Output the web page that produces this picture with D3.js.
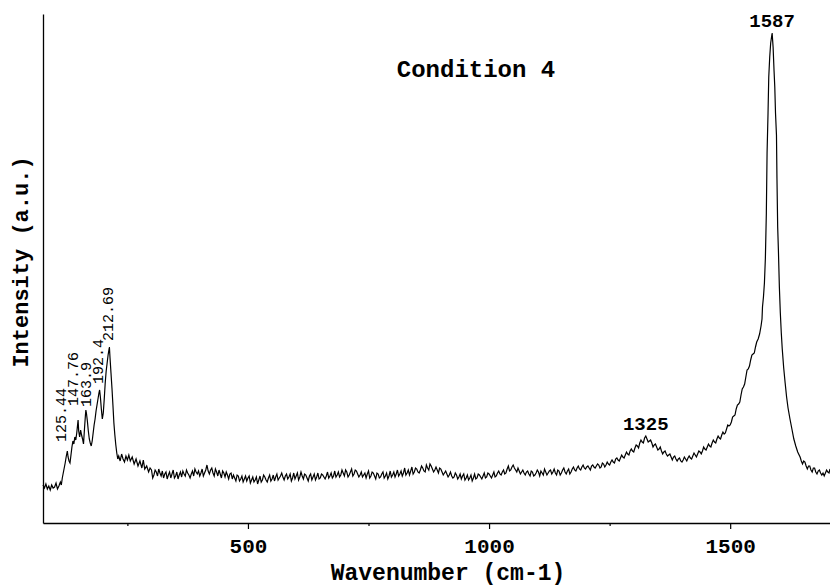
<!DOCTYPE html>
<html>
<head>
<meta charset="utf-8">
<script src="https://cdn.jsdelivr.net/npm/d3@7"></script>
<style>
  html, body { margin: 0; padding: 0; background: #fff; }
  svg { display: block; }
</style>
</head>
<body>
<svg id="chart" width="830" height="586"></svg>
<script>
// ---------------- DATA (wavenumber cm-1, intensity a.u.) ----------------
const lowBand = [
  [75,38],[78,35],[81,39],[84,34],[87,37],[90,33],[93,38],[96,35],[99,36],[102,40],[105,34],[108,37],
  [111,41],[113,38],[115,45],[117,50],[119,55],[121,60],[123,66],[125.44,72],[127,66],[129,62],[131,60],
  [133,68],[135,76],[137,82],[139,79],[141,86],[143,83],[145,90],[147.76,103],[149,92],[151,86],[153,93],
  [155,88],[157,84],[159,79],[161,94],[163,108],[163.9,113],[165,110],[167,102],[169,92],[171,84],[173,80],
  [175,77],[177,82],[179,90],[181,98],[183,104],[185,112],[187,118],[189,124],[191,130],[192.4,133],[194,126],
  [196,114],[198,104],[200,110],[202,124],[204,140],[206,152],[208,160],[210,168],[212.69,176],[214,165],
  [216,150],[218,135],[220,118],[222,100],[224,88],[226,78],[228,70],[230,64],[232,67],[235,62],[238,69],
  [241,64],[244,61],[247,67],[250,63],[253,68],[256,62],[260,66],[264,59],[268,64],[272,57],[276,62],
  [280,55],[283,63],[286,54],[290,57],[294,51],[297,55]
];
const baseline = [
  [300,53],[305,48],[310,51],[315,54],[320,47],[325,45],[330,51],[335,48],[340,45],[345,53],[350,47],[355,44],
  [360,51],[365,52],[370,47],[375,50],[380,45],[385,52],[390,54],[395,49],[400,47],[405,54],[410,50],[415,58],
  [420,49],[425,55],[430,47],[435,51],[440,53],[445,45],[450,50],[455,51],[460,44],[465,50],[470,48],[475,42],
  [480,47],[485,44],[490,41],[495,47],[500,45],[505,40],[510,46],[515,43],[520,39],[525,47],[530,43],[535,46],
  [540,41],[545,48],[550,44],[555,42],[560,49],[565,45],[570,50],[575,43],[580,49],[585,46],[590,42],[595,50],
  [600,47],[605,43],[610,51],[615,44],[620,48],[625,42],[630,49],[635,46],[640,43],[645,50],[650,45],[655,48],
  [660,44],[665,51],[670,47],[675,45],[680,52],[685,48],[690,46],[695,53],[700,47],[705,51],[710,48],[715,54],
  [720,49],[725,52],[730,46],[735,51],[740,48],[745,45],[750,52],[755,47],[760,50],[765,44],[770,49],[775,46],
  [780,51],[785,47],[790,44],[795,52],[800,48],[805,46],[810,53],[815,49],[820,47],[825,55],[830,50],[835,48],
  [840,56],[845,51],[850,54],[855,50],[860,57],[865,52],[870,58],[875,53],[880,57],[885,51],[890,56],[895,50],
  [900,54],[905,48],[910,52],[915,46],[920,51],[925,45],[930,50],[935,44],[940,49],[945,47],[950,43],[955,48],
  [960,45],[965,42],[970,49],[975,45],[980,48],[985,44],[990,50],[995,46],[1000,49],[1005,45],[1010,51],[1015,47],
  [1020,52],[1025,48],[1030,53],[1035,50],[1040,57],[1045,53],[1050,58],[1055,53],[1060,55],[1065,49],[1070,53],
  [1075,48],[1080,52],[1085,47],[1090,51],[1095,48],[1100,53],[1105,47],[1110,50],[1115,54],[1120,48],[1125,52],
  [1130,49],[1135,54],[1140,48],[1145,52],[1150,50],[1155,55],[1160,49],[1165,54],[1170,51],[1175,56],[1180,52],
  [1185,57],[1190,53],[1195,58],[1200,54],[1205,57],[1210,53],[1215,58],[1220,55],[1225,59],[1230,55],[1235,60],
  [1240,56],[1245,61]
];
const baselineMid = [
  [302.5,45],[307.5,53],[312.5,47],[317.5,50],[322.5,52],[327.5,49],[332.5,44],[337.5,51],[342.5,49],[347.5,45],
  [352.5,51],[357.5,48],[362.5,46],[367.5,49],[372.5,53],[377.5,48],[382.5,49],[387.5,47],[392.5,51],[397.5,52],
  [402.5,50],[407.5,47],[412.5,53],[417.5,52],[422.5,53],[427.5,50],[432.5,54],[437.5,47],[442.5,49],[447.5,52],
  [452.5,46],[457.5,48],[462.5,49],[467.5,44],[472.5,45],[477.5,48],[482.5,42],[487.5,47],[492.5,44],[497.5,42],
  [502.5,47],[507.5,43],[512.5,41],[517.5,46],[522.5,43],[527.5,41],[532.5,48],[537.5,43],[542.5,45],[547.5,42],
  [552.5,48],[557.5,46],[562.5,43],[567.5,47],[572.5,46],[577.5,47],[582.5,44],[587.5,49],[592.5,45],[597.5,44],
  [602.5,50],[607.5,46],[612.5,47],[617.5,49],[622.5,45],[627.5,47],[632.5,43],[637.5,49],[642.5,46],[647.5,44],
  [652.5,49],[657.5,46],[662.5,47],[667.5,45],[672.5,50],[677.5,47],[682.5,46],[687.5,51],[692.5,48],[697.5,50],
  [702.5,53],[707.5,46],[712.5,51],[717.5,47],[722.5,53],[727.5,49],[732.5,48],[737.5,46],[742.5,50],[747.5,49],
  [752.5,45],[757.5,51],[762.5,47],[767.5,50],[772.5,45],[777.5,49],[782.5,45],[787.5,50],[792.5,47],[797.5,46],
  [802.5,51],[807.5,49],[812.5,47],[817.5,52],[822.5,50],[827.5,48],[832.5,53],[837.5,52],[842.5,49],[847.5,55],
  [852.5,51],[857.5,53],[862.5,55],[867.5,51],[872.5,55],[877.5,59],[882.5,54],[887.5,53],[892.5,53],[897.5,55],
  [902.5,51],[907.5,50],[912.5,49],[917.5,48],[922.5,47],[927.5,46],[932.5,48],[937.5,46],[942.5,44],[947.5,49],
  [952.5,45],[957.5,43],[962.5,48],[967.5,45],[972.5,44],[977.5,49],[982.5,46],[987.5,47],[992.5,45],[997.5,50],
  [1002.5,47],[1007.5,48],[1012.5,46],[1017.5,50],[1022.5,49],[1027.5,51],[1032.5,49],[1037.5,54],[1042.5,52],
  [1047.5,56],[1052.5,55],[1057.5,51],[1062.5,52],[1067.5,51],[1072.5,50],[1077.5,51],[1082.5,49],[1087.5,52],
  [1092.5,47],[1097.5,50],[1102.5,51],[1107.5,52],[1112.5,48],[1117.5,51],[1122.5,50],[1127.5,53],[1132.5,51],
  [1137.5,50],[1142.5,53],[1147.5,48],[1152.5,53],[1157.5,51],[1162.5,52],[1167.5,49],[1172.5,54],[1177.5,53],
  [1182.5,55],[1187.5,54],[1192.5,56],[1197.5,55],[1202.5,56],[1207.5,55],[1212.5,57],[1217.5,56],[1222.5,57],
  [1227.5,58],[1232.5,56],[1237.5,59],[1242.5,58],[1247.5,59]
];
const dBand = [
  [1250,58],[1255,63],[1260,60],[1265,65],[1270,62],[1275,68],[1280,65],[1285,71],[1290,68],[1295,74],[1300,71],
  [1305,78],[1310,75],[1315,83],[1320,80],[1325,87],[1330,81],[1335,83],[1340,76],[1345,79],[1350,73],[1355,76],
  [1360,69],[1365,72],[1370,67],[1375,69],[1380,63],[1385,67],[1390,62],[1395,65],[1400,61],[1405,66],[1410,62],
  [1415,67],[1420,64],[1425,70],[1430,66],[1435,72],[1440,69],[1445,76],[1450,73],[1455,79],[1460,76],[1465,83],
  [1470,80],[1475,87],[1480,84],[1485,91],[1490,90],[1495,98],[1500,98],[1505,106],[1510,108],[1515,118],
  [1520,121],[1525,134],[1530,139],[1535,153],[1540,157],[1545,168],[1550,170],[1555,181],[1558,184],[1561,189],
  [1564,197],[1566,204]
];
const dBandMid = [
  [1252.5,61],[1257.5,61],[1262.5,64],[1267.5,63],[1272.5,65],[1277.5,66],[1282.5,68],[1287.5,69],[1292.5,72],
  [1297.5,72],[1302.5,75],[1307.5,77],[1312.5,80],[1317.5,81],[1322.5,85],[1327.5,84],[1332.5,82],[1337.5,80],
  [1342.5,78],[1347.5,76],[1352.5,74],[1357.5,72],[1362.5,71],[1367.5,69],[1372.5,68],[1377.5,66],[1382.5,66],
  [1387.5,64],[1392.5,64],[1397.5,62],[1402.5,63],[1407.5,64],[1412.5,65],[1417.5,65],[1422.5,67],[1427.5,68],
  [1432.5,69],[1437.5,71],[1442.5,72],[1447.5,74],[1452.5,76],[1457.5,77],[1462.5,80],[1467.5,81],[1472.5,84],
  [1477.5,85],[1482.5,88],[1487.5,89],[1492.5,94],[1497.5,97],[1502.5,101],[1507.5,107],[1512.5,114],
  [1517.5,119],[1522.5,128],[1527.5,136],[1532.5,146],[1537.5,154],[1542.5,163],[1547.5,169],[1552.5,176]
];
const gBand = [
  [1567,216],[1569,226],[1571,240],[1573,265],[1575,310],[1576.5,370],[1578.5,410],[1580,446],[1582,466],
  [1584,480],[1587,490],[1589,476],[1591,452],[1592.5,436],[1594,410],[1596,388],[1597,345],[1598.5,296],
  [1600,273],[1602,236],[1604,210],[1606,190],[1608,174],[1611,155],[1614,140],[1617,126],[1620,115],
  [1624,104],[1628,94],[1632,84],[1636,77],[1640,71],[1645,66],[1650,59],[1655,61],[1660,54],[1665,57],
  [1670,51],[1675,55],[1680,49],[1685,53],[1690,48],[1695,47],[1700,53],[1705,50],[1707,54]
];
const gTailMid = [
  [1647.5,62],[1652.5,62],[1657.5,57],[1662.5,57],[1667.5,53],[1672.5,55],[1677.5,51],[1682.5,52],
  [1687.5,50],[1692.5,50],[1697.5,50],[1702.5,51]
];
const spectrum = d3.sort(
  lowBand.concat(baseline, baselineMid, dBand, dBandMid, gBand, gTailMid),
  d => d[0]
);

const xTicksMajor = [500, 1000, 1500];
const xTicksMinor = [250, 750, 1250];
const peakLabelsRot = [
  {w: 125.44, text: "125.44"},
  {w: 147.76, text: "147.76"},
  {w: 163.9,  text: "163.9"},
  {w: 192.4,  text: "192.4"},
  {w: 212.69, text: "212.69"}
];
const peakLabelsFlat = [
  {w: 1325, text: "1325"},
  {w: 1587, text: "1587"}
];
const titleText = "Condition 4";
const xTitle = "Wavenumber (cm-1)";
const yTitle = "Intensity (a.u.)";

// ---------------- LAYOUT / STYLE ----------------
const svg = d3.select("#chart");
const FONT = "'Liberation Mono', 'Courier New', monospace";
const x = d3.scaleLinear().domain([75, 1707]).range([43, 830]);
const y = d3.scaleLinear().domain([0, 509]).range([523, 14]);
// pixel nudges for the rotated peak labels (label placement style)
const rotNudge = [[-7, -9], [-5, -14], [0, -3], [-2, -6], [-2, -6]];

svg.append("rect").attr("width", 830).attr("height", 586).attr("fill", "#fff");

// spectrum line
const line = d3.line().x(d => x(d[0])).y(d => y(d[1]));
svg.append("path").datum(spectrum)
  .attr("d", line).attr("fill", "none")
  .attr("stroke", "#000").attr("stroke-width", 1.2)
  .attr("stroke-linejoin", "miter");

// axes
const xAxisMajor = d3.axisBottom(x).tickValues(xTicksMajor).tickFormat(d3.format("d"))
  .tickSize(6).tickSizeOuter(0).tickPadding(9);
const gx = svg.append("g").attr("transform", "translate(0,523)").call(xAxisMajor);
gx.select(".domain").attr("stroke", "#000").attr("stroke-width", 1.3);
gx.selectAll(".tick line").attr("stroke", "#000").attr("stroke-width", 1.2);
gx.selectAll(".tick text").attr("font-family", FONT).attr("font-weight", "bold")
  .attr("font-size", 21).attr("fill", "#000");
const xAxisMinor = d3.axisBottom(x).tickValues(xTicksMinor).tickSize(3).tickSizeOuter(0).tickFormat("");
const gxm = svg.append("g").attr("transform", "translate(0,523)").call(xAxisMinor);
gxm.select(".domain").remove();
gxm.selectAll(".tick line").attr("stroke", "#000").attr("stroke-width", 1.2);

const yAxis = d3.axisLeft(y).tickValues([]).tickSizeOuter(0);
const gy = svg.append("g").attr("transform", "translate(43,0)").call(yAxis);
gy.select(".domain").attr("stroke", "#000").attr("stroke-width", 1.3);

// titles
svg.append("text").attr("x", 476).attr("y", 77).attr("text-anchor", "middle")
  .attr("font-family", FONT).attr("font-weight", "bold").attr("font-size", 24).text(titleText);
svg.append("text").attr("x", 448).attr("y", 580).attr("text-anchor", "middle")
  .attr("font-family", FONT).attr("font-weight", "bold").attr("font-size", 23).text(xTitle);
svg.append("text").attr("transform", "translate(28,262) rotate(-90)").attr("text-anchor", "middle")
  .attr("font-family", FONT).attr("font-weight", "bold").attr("font-size", 22).text(yTitle);

// peak labels
const lookup = w => { const p = spectrum.find(d => d[0] === w); return p ? p[1] : 0; };
svg.selectAll(".plab").data(peakLabelsFlat).enter().append("text")
  .attr("x", d => x(d.w)).attr("y", d => y(lookup(d.w)) - 6)
  .attr("text-anchor", "middle").attr("font-family", FONT).attr("font-weight", "bold")
  .attr("font-size", 19).text(d => d.text);
svg.selectAll(".rlab").data(peakLabelsRot).enter().append("text")
  .attr("transform", (d, i) => `translate(${x(d.w) + rotNudge[i][0]},${y(lookup(d.w)) + rotNudge[i][1]}) rotate(-90)`)
  .attr("dy", "0.35em")
  .attr("text-anchor", "start").attr("font-family", FONT)
  .attr("font-size", 15).text(d => d.text);
</script>
</body>
</html>
